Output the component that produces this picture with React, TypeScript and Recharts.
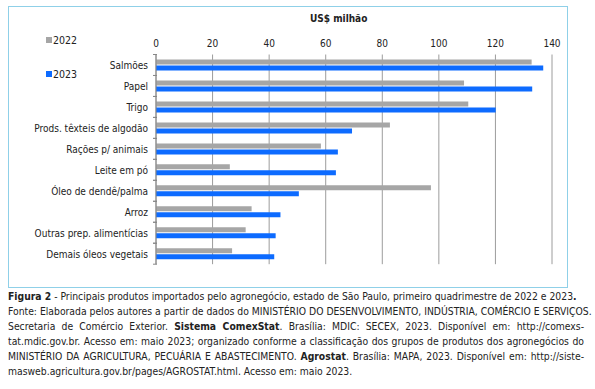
import { BarChart, Bar, XAxis, YAxis, CartesianGrid } from "recharts";

const produtos = [
  "Salmões",
  "Papel",
  "Trigo",
  "Prods. têxteis de algodão",
  "Rações p/ animais",
  "Leite em pó",
  "Óleo de dendê/palma",
  "Arroz",
  "Outras prep. alimentícias",
  "Demais óleos vegetais",
];
const valores2022 = [132.8, 108.9, 110.4, 82.7, 58.3, 26.1, 97.2, 33.8, 31.7, 26.9];
const valores2023 = [136.9, 133.0, 120.1, 69.3, 64.3, 63.6, 50.5, 44.0, 42.3, 41.8];
const xTicks = [0, 20, 40, 60, 80, 100, 120, 140];
const series = [
  { key: "a2022", name: "2022", color: "#a6a6a6" },
  { key: "a2023", name: "2023", color: "#0d6bff" },
];

const data = produtos.map((p, i) => ({ produto: p, a2022: valores2022[i], a2023: valores2023[i] }));

const FONT = "'DejaVu Sans Condensed', 'DejaVu Sans', sans-serif";

function CategoryTick(props: any) {
  const { x, y, payload } = props;
  const half = payload?.offset ?? 10.5;
  return (
    <g>
      <line x1={x + 5} x2={x + 9} y1={y - half} y2={y - half} stroke="#888" />
      <line x1={x + 5} x2={x + 9} y1={y + half} y2={y + half} stroke="#888" />
      <text x={x} y={y} dy={4} textAnchor="end" fontSize={10} fill="#222" fontFamily={FONT}>
        {payload.value}
      </text>
    </g>
  );
}

export default function App() {
  return (
    <div style={{ position: "absolute", left: 0, top: 0, width: 595, height: 389, background: "#fff", fontFamily: FONT }}>
      <div style={{ position: "absolute", left: 8, top: 6, width: 558, height: 280, border: "1px solid #8fd0e8" }} />
      <div style={{ position: "absolute", left: 310, top: 13, fontSize: 10, fontWeight: "bold", color: "#222" }}>US$ milhão</div>
      <div style={{ position: "absolute", left: 46, top: 33, fontSize: 10.5, color: "#222" }}>
        {series.map((s, i) => (
          <div key={s.key} style={{ display: "flex", alignItems: "center", height: 14, marginBottom: i === 0 ? 20 : 0 }}>
            <span style={{ display: "inline-block", width: 6, height: 6, background: s.color, marginRight: 1 }} />
            {s.name}
          </div>
        ))}
      </div>
      <div style={{ position: "absolute", left: 0, top: 0 }}>
        <BarChart
          width={595}
          height={290}
          data={data}
          layout="vertical"
          margin={{ top: 34.5, right: 43, left: 6, bottom: 25.8 }}
          barSize={5}
          barGap={1}
        >
          <CartesianGrid horizontal={false} stroke="#9c9c9c" />
          <XAxis
            type="number"
            orientation="top"
            domain={[0, 140]}
            ticks={xTicks}
            height={20}
            axisLine={false}
            tickLine={false}
            tick={{ fontSize: 10, fill: "#222", fontFamily: FONT }}
          />
          <YAxis
            type="category"
            dataKey="produto"
            width={150}
            axisLine={{ stroke: "#888" }}
            tickLine={false}
            interval={0}
            tick={<CategoryTick />}
          />
          {series.map((s) => (
            <Bar key={s.key} dataKey={s.key} name={s.name} fill={s.color} isAnimationActive={false} />
          ))}
        </BarChart>
      </div>
      <div style={{ position: "absolute", left: 8, top: 289, width: 576, fontSize: 10.3, lineHeight: "15.1px", color: "#222" }}>
        <div style={{ whiteSpace: "nowrap" }}>
          <b>Figura 2</b> - Principais produtos importados pelo agronegócio, estado de São Paulo, primeiro quadrimestre de 2022 e 2023<b>.</b>
        </div>
        <div style={{ whiteSpace: "nowrap" }}>
          Fonte: Elaborada pelos autores a partir de dados do MINISTÉRIO DO DESENVOLVIMENTO, INDÚSTRIA, COMÉRCIO E SERVIÇOS.
        </div>
        <div style={{ textAlign: "justify", textAlignLast: "justify" }}>
          Secretaria de Comércio Exterior. <b>Sistema ComexStat</b>. Brasília: MDIC: SECEX, 2023. Disponível em: http://comexs-
        </div>
        <div style={{ textAlign: "justify", textAlignLast: "justify" }}>
          tat.mdic.gov.br. Acesso em: maio 2023; organizado conforme a classificação dos grupos de produtos dos agronegócios do
        </div>
        <div style={{ textAlign: "justify", textAlignLast: "justify" }}>
          MINISTÉRIO DA AGRICULTURA, PECUÁRIA E ABASTECIMENTO. <b>Agrostat</b>. Brasília: MAPA, 2023. Disponível em: http://siste-
        </div>
        <div style={{ whiteSpace: "nowrap" }}>masweb.agricultura.gov.br/pages/AGROSTAT.html. Acesso em: maio 2023.</div>
      </div>
    </div>
  );
}
